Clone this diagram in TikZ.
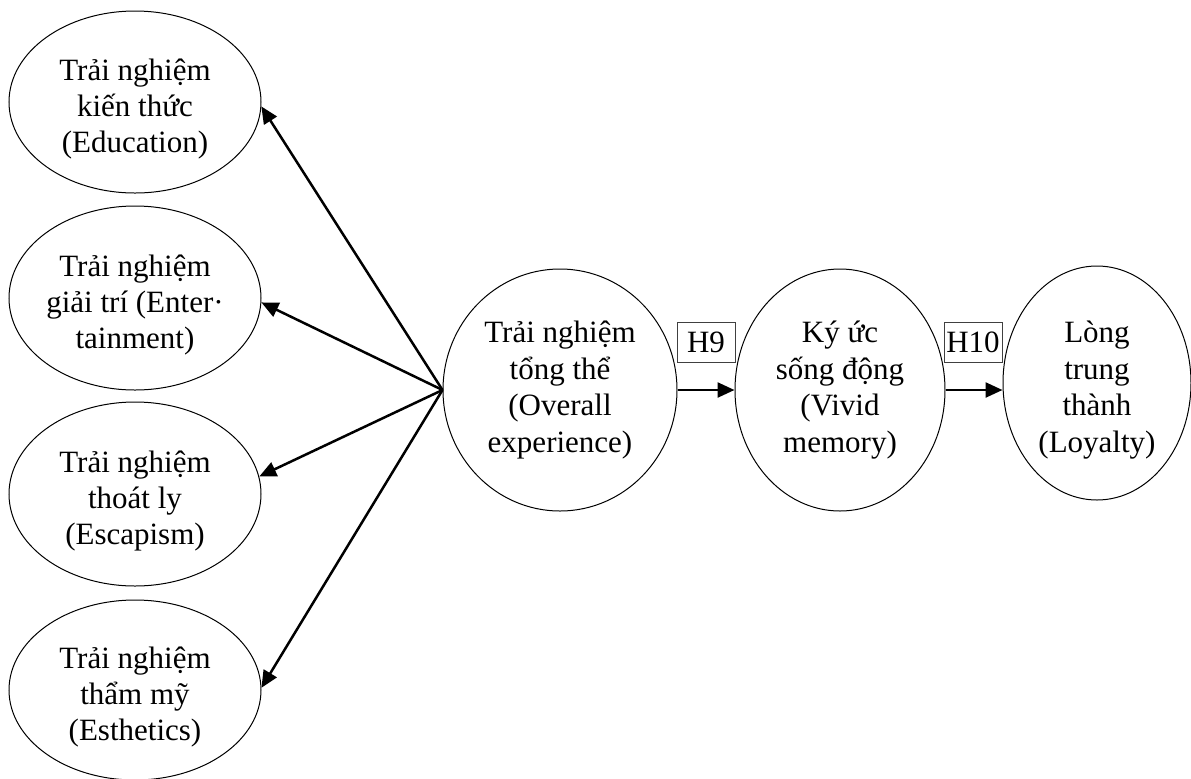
\documentclass[tikz,border=0pt]{standalone}
\usepackage{fontspec}
\setmainfont{Liberation Serif}
\usetikzlibrary{shapes.geometric,arrows.meta}
\begin{document}
\begin{tikzpicture}[x=0.5pt,y=-0.5pt,
  oval/.style 2 args={ellipse, draw, line width=0.5pt, inner sep=0pt,
    minimum width=#1pt, minimum height=#2pt},
  txt/.style={align=center, inner sep=0pt, font=\fontsize{15.5}{18.2}\selectfont},
  hbox/.style={draw=black!75, line width=0.5pt, inner sep=0pt,
    minimum width=29pt, minimum height=20pt, font=\fontsize{15.5}{18}\selectfont},
  conn/.style={line width=1.25pt, -{Triangle[length=8.5pt,width=7.5pt]}}]
\useasboundingbox (0,0) rectangle (1191,778);

% four experience dimensions on the left
\node[oval={126}{91}] (edu) at (135,102) {};
\node[txt] (edu-t) at ([yshift=-3.5pt]edu.center) {Trải nghiệm\\kiến thức\\(Education)};
\node[oval={126}{92}] (ent) at (135,298) {};
\node[txt] (ent-t) at ([yshift=-3.5pt]ent.center) {Trải nghiệm\\giải trí (Enter·\\tainment)};
\node[oval={126}{92}] (esc) at (135,494) {};
\node[txt] (esc-t) at ([yshift=-3.5pt]esc.center) {Trải nghiệm\\thoát ly\\(Escapism)};
\node[oval={126}{90}] (est) at (135,690) {};
\node[txt] (est-t) at ([yshift=-3.5pt]est.center) {Trải nghiệm\\thẩm mỹ\\(Esthetics)};

% overall experience, memory, loyalty
\node[oval={117}{121}] (ovr) at (560,390) {};
\node[txt] (ovr-t) at (ovr) {Trải nghiệm\\tổng thể\\(Overall\\experience)};
\node[oval={105}{121}] (viv) at (840,390) {};
\node[txt] (viv-t) at (viv) {Ký ức\\sống động\\(Vivid\\memory)};
\node[oval={94}{117}] (loy) at (1097,383) {};
\node[txt] (loy-t) at ([yshift=-3.5pt]loy.center) {Lòng\\trung\\thành\\(Loyalty)};

% hypothesis labels
\node[hbox] (h9) at (706,342) {H9};
\node[hbox] (h10) at (973,342) {H10};

% connectors
\draw[conn] (ovr.west) -- (edu.-2);
\draw[conn] (ovr.west) -- (ent.-2);
\draw[conn] (ovr.west) -- (esc.8);
\draw[conn] (ovr.west) -- (est.1);
\draw[conn] (ovr.east) -- (viv.west);
\draw[conn] (viv.east) -- (viv.east -| loy.west);
\end{tikzpicture}
\end{document}
